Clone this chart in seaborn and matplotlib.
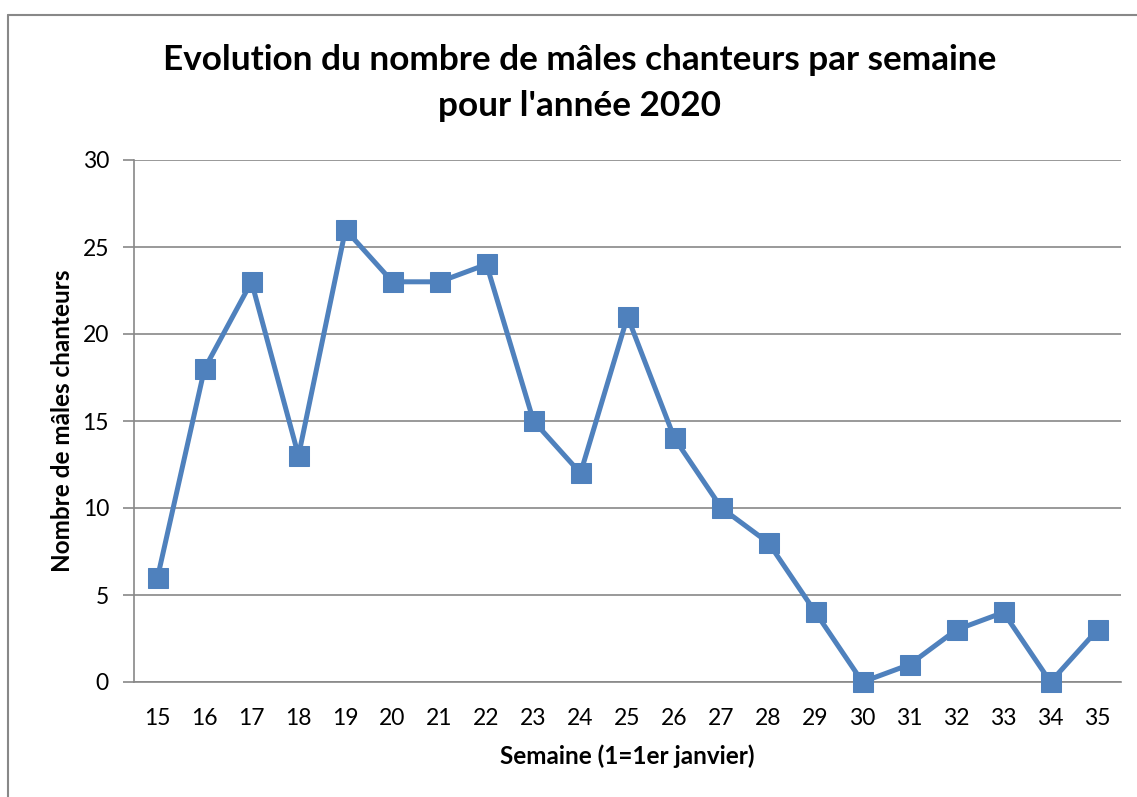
import matplotlib
matplotlib.use("Agg")
import matplotlib.pyplot as plt
import seaborn as sns
import pandas as pd
import numpy as np
from matplotlib.lines import Line2D

weeks = list(range(15, 36))
males = [6, 18, 23, 13, 26, 23, 23, 24, 15, 12, 21, 14, 10, 8, 4, 0, 1, 3, 4, 0, 3]
y_ticks = [0, 5, 10, 15, 20, 25, 30]

title = "Evolution du nombre de mâles chanteurs par semaine\npour l'année 2020"
xlabel = "Semaine (1=1er janvier)"
ylabel = "Nombre de mâles chanteurs"

sns.set_theme(style="white")
plt.rcParams['font.family'] = ['Lato', 'DejaVu Sans']
plt.rcParams['text.color'] = 'black'
plt.rcParams['axes.labelcolor'] = 'black'
plt.rcParams['xtick.labelcolor'] = 'black'
plt.rcParams['ytick.labelcolor'] = 'black'

df = pd.DataFrame({"week": weeks, "males": males})

fig = plt.figure(figsize=(11.37, 7.97), dpi=100)
ax = fig.add_axes([134/1137, 1-682/797, (1121-134)/1137, (682-160)/797])

color = "#4F81BD"
sns.lineplot(data=df, x="week", y="males", ax=ax, color=color, linewidth=3.6,
             marker="s", markersize=14, markeredgecolor=color, markerfacecolor=color,
             clip_on=False, zorder=3)

ax.set_xlim(14.5, 35.5)
ax.set_ylim(0, 30)
ax.set_yticks(y_ticks)
ax.set_yticklabels([str(v) for v in y_ticks], fontsize=16.5)
ax.set_xticks(weeks)
ax.set_xticklabels([str(w) for w in weeks], fontsize=16.5)
ax.set_xticks(np.arange(14.5, 36.0, 1.0), minor=True)
ax.tick_params(axis='x', which='major', length=0, pad=19)
ax.tick_params(axis='x', which='minor', length=8, width=1.2, color="#888888", direction='out')
ax.tick_params(axis='y', which='major', length=8, width=1.2, color="#888888", direction='out', pad=10, left=True)

ax.grid(axis='y', color="#888888", linewidth=1.2)
ax.grid(axis='x', visible=False)
for s in ['top', 'right']:
    ax.spines[s].set_visible(False)
for s in ['left', 'bottom']:
    ax.spines[s].set_color("#888888")
    ax.spines[s].set_linewidth(1.2)

ax.set_xlabel(xlabel, fontsize=17.5, fontweight='bold', labelpad=11)
ax.set_ylabel(ylabel, fontsize=17.5, fontweight='bold', labelpad=6)

fig.text(580/1137, 1-83/797, title, ha='center', va='center', fontsize=25.3,
         fontweight='bold', linespacing=1.5)

# chart border (left and top edges visible)
fig.add_artist(Line2D([8/1137, 8/1137], [0, 1-15/797], transform=fig.transFigure, color="#888888", linewidth=1.5))
fig.add_artist(Line2D([8/1137, 1], [1-15/797, 1-15/797], transform=fig.transFigure, color="#888888", linewidth=1.5))

fig.savefig("out.png", dpi=100)
